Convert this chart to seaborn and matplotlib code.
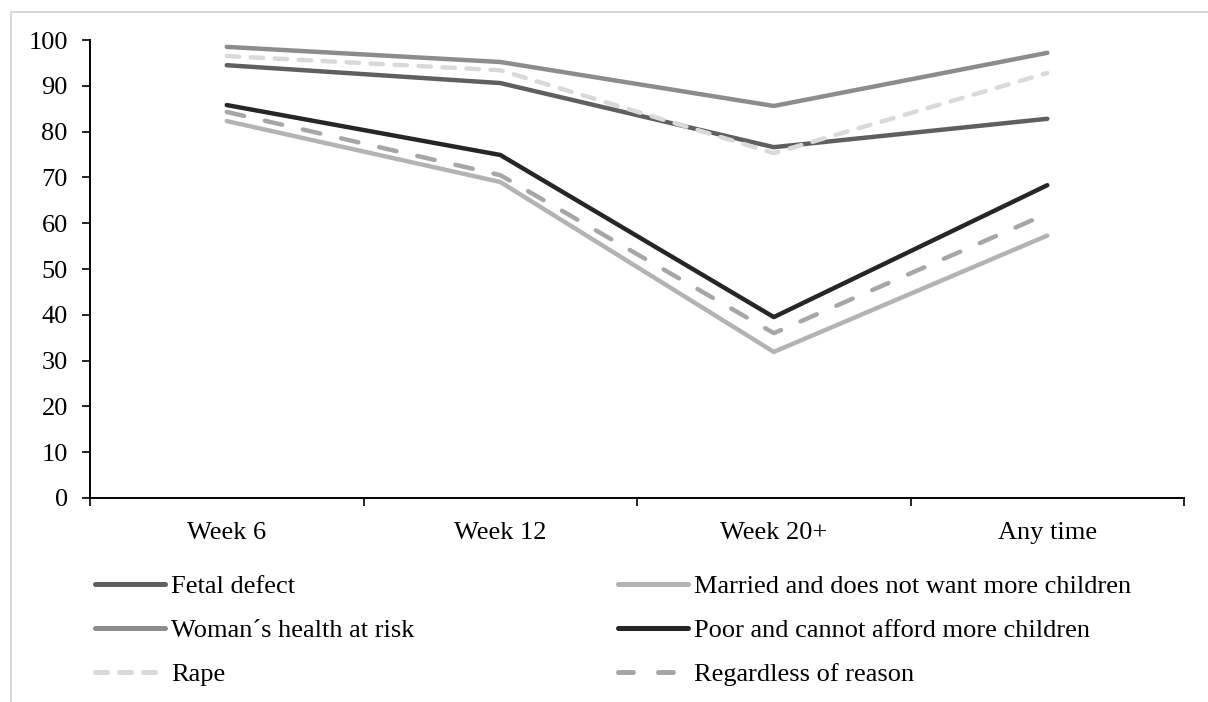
import numpy as np
import pandas as pd
import matplotlib
matplotlib.use("Agg")
import matplotlib.pyplot as plt
import seaborn as sns

sns.set_theme(style="white")
plt.rcParams["font.family"] = ["Liberation Serif", "DejaVu Serif"]
plt.rcParams["text.color"] = "black"

# --- Data ---
weeks = ["Week 6", "Week 12", "Week 20+", "Any time"]
reasons = [
    "Fetal defect",
    "Woman\u00b4s health at risk",
    "Rape",
    "Married and does not want more children",
    "Poor and cannot afford more children",
    "Regardless of reason",
]
fetal_defect = [94.5, 90.6, 76.6, 82.8]
womans_health = [98.5, 95.2, 85.6, 97.2]
rape = [96.5, 93.4, 75.3, 92.8]
married = [82.3, 69.0, 31.9, 57.3]
poor = [85.8, 74.9, 39.5, 68.3]
regardless = [84.3, 70.5, 36.0, 62.1]

values = [fetal_defect, womans_health, rape, married, poor, regardless]
df = pd.DataFrame(
    [(r, i, v) for r, vals in zip(reasons, values) for i, v in enumerate(vals)],
    columns=["reason", "week", "pct"],
)

palette = dict(zip(reasons, ["#5f5f5f", "#8c8c8c", "#d9d9d9", "#b3b3b3", "#262626", "#a6a6a6"]))
dashes = dict(zip(reasons, ["", "", (2.8, 2.6), "", "", (4.0, 4.8)]))

fig = plt.figure(figsize=(12.08, 7.02), dpi=100)
ax = fig.add_axes([0.0745, 0.2906, 0.9057, 0.6524])

# light frame around the chart area (top and left edges visible)
frame_kw = dict(color="#d9d9d9", linewidth=1.5, transform=fig.transFigure)
fig.add_artist(plt.Line2D([0.0087, 1.0], [0.9836, 0.9836], **frame_kw))
fig.add_artist(plt.Line2D([0.0087, 0.0087], [0.0, 0.9836], **frame_kw))

sns.lineplot(
    data=df, x="week", y="pct", hue="reason", style="reason",
    hue_order=reasons, style_order=reasons,
    palette=palette, dashes=dashes, linewidth=3.2, legend=False, ax=ax,
)
for ln in ax.lines:
    ln.set_solid_capstyle("round")
    ln.set_dash_capstyle("round")

ax.set_xlim(-0.5, 3.5)
ax.set_ylim(0, 100)
ax.set_yticks(range(0, 101, 10))
ax.set_xticks(range(len(weeks)))
ax.set_xticklabels(weeks)
ax.set_xticks(np.arange(-0.5, 3.6, 1), minor=True)
ax.tick_params(axis="x", which="major", length=0, pad=17.5, labelsize=19, colors="black")
ax.tick_params(axis="x", which="minor", length=6, width=1.2, direction="out", bottom=True, color="black")
ax.tick_params(axis="y", length=6, width=1.2, direction="out", left=True, labelsize=19, pad=10, colors="black")
ax.set_xlabel("")
ax.set_ylabel("")
sns.despine(ax=ax)
for s in ["left", "bottom"]:
    ax.spines[s].set_color("black")
    ax.spines[s].set_linewidth(1.4)

handles = []
for r in reasons:
    ls = "-"
    if r == "Rape":
        ls = (0, (2.4, 2.4))
    elif r == "Regardless of reason":
        ls = (0, (3.0, 5.0))
    handles.append(plt.Line2D([], [], color=palette[r], linewidth=3.6, linestyle=ls,
                              solid_capstyle="round", dash_capstyle="round"))
legend_kw = dict(frameon=False, fontsize=19, handlelength=2.65, handletextpad=0.22,
                 labelspacing=0.77, borderpad=0, borderaxespad=0, loc="upper left",
                 labelcolor="black")
fig.legend(handles[:3], reasons[:3], bbox_to_anchor=(0.079, 0.181), **legend_kw)
fig.legend(handles[3:], reasons[3:], bbox_to_anchor=(0.512, 0.181), **legend_kw)

fig.savefig("out.png", dpi=100)
